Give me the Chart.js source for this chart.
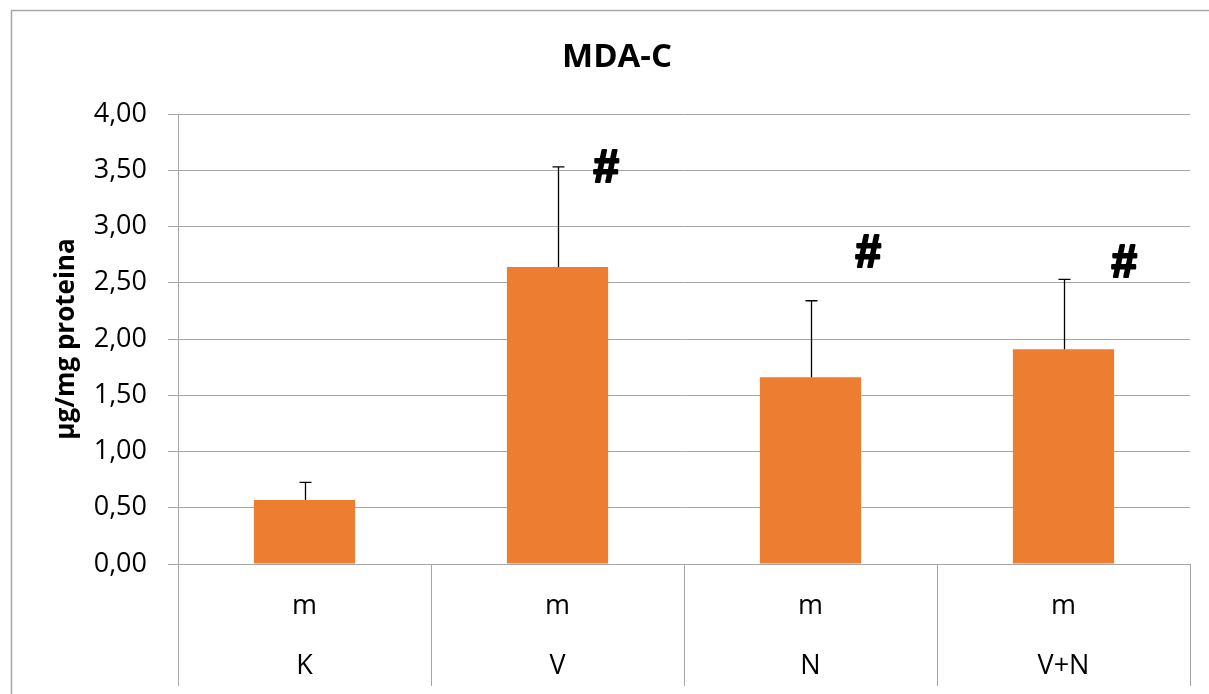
<!DOCTYPE html>
<html>
<head>
<meta charset="utf-8">
<script src="https://cdn.jsdelivr.net/npm/chart.js@4/dist/chart.umd.min.js"></script>
<style>
  html, body { margin: 0; padding: 0; background: #fff; }
  #wrap { width: 1209px; height: 694px; position: relative; }
</style>
</head>
<body>
<div id="wrap"><canvas id="chart"></canvas></div>
<script>
// ── Data ──
const categories = ['K', 'V', 'N', 'V+N'];
const groupLabels = ['m', 'm', 'm', 'm'];
const means = [0.57, 2.64, 1.66, 1.91];
const errUp = [0.155, 0.89, 0.68, 0.62];
const marks = ['', '#', '#', '#'];
const markValues = [null, 3.53, 2.77, 2.68];
const yMin = 0, yMax = 4, yStep = 0.5;

const GRID = '#a6a6a6';
const FONT = "'Open Sans', sans-serif";

// ── Plugins ──
const frame = {
  id: 'frame',
  beforeDraw(chart) {
    const ctx = chart.ctx;
    ctx.save();
    ctx.strokeStyle = GRID;
    ctx.lineWidth = 1.5;
    ctx.beginPath();
    ctx.moveTo(11.5, 694);
    ctx.lineTo(11.5, 10.5);
    ctx.lineTo(1209, 10.5);
    ctx.stroke();
    ctx.restore();
  }
};

const errorBars = {
  id: 'errorBars',
  afterDatasetsDraw(chart) {
    const { ctx, scales: { y } } = chart;
    const meta = chart.getDatasetMeta(0);
    ctx.save();
    ctx.strokeStyle = '#000';
    ctx.lineWidth = 1.3;
    meta.data.forEach((bar, i) => {
      const top = y.getPixelForValue(means[i] + errUp[i]);
      const x = Math.round(bar.x) + 0.5;
      ctx.beginPath();
      ctx.moveTo(x, bar.y);
      ctx.lineTo(x, top);
      ctx.moveTo(x - 6, top);
      ctx.lineTo(x + 6, top);
      ctx.stroke();
    });
    ctx.restore();
  }
};

// significance marks, thickened with a stroke
const hashMarks = {
  id: 'hashMarks',
  afterDatasetsDraw(chart, args, opts) {
    const { ctx, scales: { x, y } } = chart;
    ctx.save();
    ctx.fillStyle = '#000';
    ctx.strokeStyle = '#000';
    ctx.lineWidth = 2.2;
    ctx.lineJoin = 'round';
    ctx.font = "italic bold 46px 'Liberation Sans', sans-serif";
    ctx.textAlign = 'center';
    ctx.textBaseline = 'middle';
    marks.forEach((m, i) => {
      if (!m || markValues[i] == null) return;
      const px = x.getPixelForValue(i) + opts.dx[i];
      const py = y.getPixelForValue(markValues[i]) + 2;
      ctx.fillText(m, px, py);
      ctx.strokeText(m, px, py);
    });
    ctx.restore();
  }
};

// ── Chart ──
new Chart(document.getElementById('chart'), {
  type: 'bar',
  data: {
    labels: categories.map((c, i) => [groupLabels[i], c]),
    datasets: [{
      data: means,
      backgroundColor: '#ED7D31',
      borderWidth: 0,
      categoryPercentage: 1,
      barPercentage: 0.4
    }]
  },
  plugins: [frame, errorBars, hashMarks],
  options: {
    responsive: true,
    maintainAspectRatio: false,
    animation: false,
    layout: { padding: { left: 44, right: 19, top: 0, bottom: 0 } },
    plugins: {
      legend: { display: false },
      tooltip: { enabled: false },
      title: {
        display: true,
        text: 'MDA-C',
        color: '#000',
        font: { family: FONT, size: 33, weight: 'bold' },
        padding: { top: 37.6, bottom: 36.8 }
      },
      hashMarks: { dx: [0, 48, 57, 60] }
    },
    scales: {
      x: {
        offset: true,
        grid: {
          display: true,
          offset: true,
          drawOnChartArea: false,
          drawTicks: true,
          tickLength: 122,
          color: GRID,
          lineWidth: 1
        },
        border: { display: true, color: GRID, width: 1 },
        ticks: {
          color: '#000',
          maxRotation: 0,
          autoSkip: false,
          padding: -110.4,
          font: { family: FONT, size: 27, lineHeight: 2.25 }
        },
        afterFit(scale) { scale.height = 130; }
      },
      y: {
        min: yMin,
        max: yMax,
        grid: { color: GRID, lineWidth: 1, tickLength: 10, drawTicks: true },
        border: { display: true, color: GRID, width: 1 },
        ticks: {
          stepSize: yStep,
          color: '#000',
          padding: 21,
          font: { family: FONT, size: 27 },
          callback: v => v.toFixed(2).replace('.', ',')
        },
        title: {
          display: true,
          text: 'µg/mg proteina',
          color: '#000',
          font: { family: FONT, size: 26, weight: 'bold' },
          padding: { top: 7.4, bottom: 0 }
        },
        afterFit(scale) { scale.width = 134; }
      }
    }
  }
});
</script>
</body>
</html>
